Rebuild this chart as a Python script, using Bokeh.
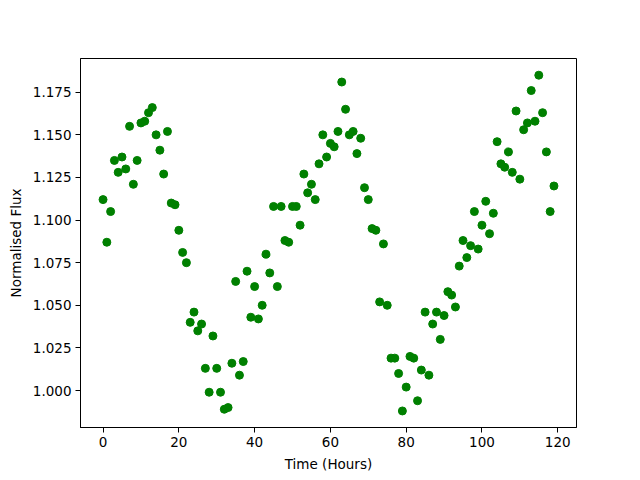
from bokeh.plotting import figure
from bokeh.models import Range1d, FixedTicker, NumeralTickFormatter
from bokeh.embed import file_html
from bokeh.resources import INLINE

hours = list(range(120))
flux = [
    1.112, 1.087, 1.105, 1.135, 1.128, 1.137, 1.130, 1.155, 1.121, 1.135,
    1.157, 1.158, 1.163, 1.166, 1.150, 1.141, 1.127, 1.152, 1.110, 1.109,
    1.094, 1.081, 1.075, 1.040, 1.046, 1.035, 1.039, 1.013, 0.999, 1.032,
    1.013, 0.999, 0.989, 0.990, 1.016, 1.064, 1.009, 1.017, 1.070, 1.043,
    1.061, 1.042, 1.050, 1.080, 1.069, 1.108, 1.061, 1.108, 1.088, 1.087,
    1.108, 1.108, 1.097, 1.127, 1.116, 1.121, 1.112, 1.133, 1.150, 1.137,
    1.145, 1.143, 1.152, 1.181, 1.165, 1.150, 1.152, 1.139, 1.148, 1.119,
    1.112, 1.095, 1.094, 1.052, 1.086, 1.050, 1.019, 1.019, 1.010, 0.988,
    1.002, 1.020, 1.019, 0.994, 1.012, 1.046, 1.009, 1.039, 1.046, 1.030,
    1.044, 1.058, 1.056, 1.049, 1.073, 1.088, 1.078, 1.085, 1.105, 1.083,
    1.097, 1.111, 1.092, 1.104, 1.146, 1.133, 1.131, 1.140, 1.128, 1.164,
    1.124, 1.153, 1.157, 1.176, 1.158, 1.185, 1.163, 1.140, 1.105, 1.120,
]
x_ticks = [0, 20, 40, 60, 80, 100, 120]
y_ticks = [1.000, 1.025, 1.050, 1.075, 1.100, 1.125, 1.150, 1.175]

p = figure(width=640, height=480, output_backend="svg", toolbar_location=None,
           x_range=Range1d(-5.95, 124.95), y_range=Range1d(0.9783, 1.1948),
           min_border_left=80, min_border_right=64, min_border_top=58, min_border_bottom=53)
p.scatter(hours, flux, size=8, color="#008000")

p.xgrid.visible = False
p.ygrid.visible = False
p.outline_line_color = "black"
p.outline_line_width = 1
p.background_fill_color = "white"
p.border_fill_color = "white"

p.xaxis.ticker = FixedTicker(ticks=x_ticks)
p.yaxis.ticker = FixedTicker(ticks=y_ticks)
p.yaxis.formatter = NumeralTickFormatter(format="0.000")
p.xaxis.axis_label = "Time (Hours)"
p.yaxis.axis_label = "Normalised Flux"
for ax in (p.xaxis, p.yaxis):
    ax.axis_label_text_font = "DejaVu Sans"
    ax.axis_label_text_font_style = "normal"
    ax.axis_label_text_font_size = "13.5px"
    ax.axis_label_text_color = "black"
    ax.major_label_text_font = "DejaVu Sans"
    ax.major_label_text_font_size = "13.5px"
    ax.major_label_text_color = "black"
    ax.axis_line_color = "black"
    ax.major_tick_line_color = "black"
    ax.major_tick_out = 5
    ax.major_tick_in = 0
    ax.minor_tick_line_color = None
    ax.axis_label_standoff = 6
    ax.major_label_standoff = 4

open("out.html", "w").write(file_html(p, INLINE))
